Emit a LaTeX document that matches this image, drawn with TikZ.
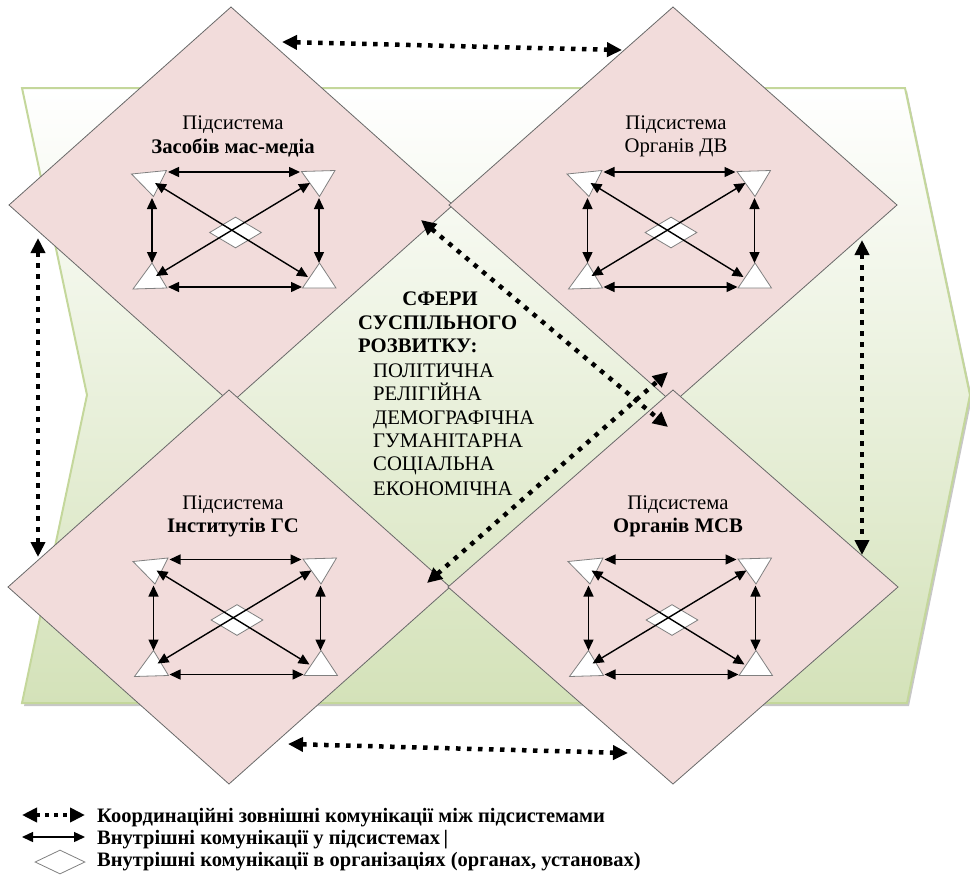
\documentclass[tikz,border=0pt]{standalone}
\usepackage{fontspec}
\setmainfont{Liberation Serif}
\usetikzlibrary{arrows.meta,shapes.geometric}
\definecolor{pinkfill}{RGB}{242,220,219}
\definecolor{chevgreen}{RGB}{212,226,185}
\definecolor{chevedge}{RGB}{196,215,155}
\definecolor{edgegray}{RGB}{105,105,105}
\definecolor{trigray}{RGB}{128,128,128}
\newcommand\innerset[2]{%
\begin{scope}[shift={#2}]
 \node[smalldia] (#1c) at (0,0) {};
 \path[tri] (-104,-58.5) -- (-69,-62) -- (-82,-36) -- cycle;
 \path[tri] (66,-61) -- (99.5,-62) -- (84,-36) -- cycle;
 \path[tri] (-102.5,56.5) -- (-83.5,30.5) -- (-68.5,55.5) -- cycle;
 \path[tri] (67,55.5) -- (84,30.5) -- (100.5,55.5) -- cycle;
 \coordinate (#1a1) at (-67.5,-60.5); \coordinate (#1a2) at (64.5,-60.5);
 \coordinate (#1b1) at (-83.5,-34.5); \coordinate (#1b2) at (-83.5,30.5);
 \coordinate (#1c1) at (83.5,-34.5);  \coordinate (#1c2) at (83.5,30.5);
 \coordinate (#1d1) at (-67.5,54.5);  \coordinate (#1d2) at (66.5,54.5);
 \coordinate (#1e1) at (-80.5,-49.5); \coordinate (#1e2) at (72.5,44.5);
 \coordinate (#1f1) at (74.5,-49.5);  \coordinate (#1f2) at (-79.5,43.5);
 \draw[inarrow] (#1a1) -- (#1a2);
 \draw[inarrow] (#1b1) -- (#1b2);
 \draw[inarrow] (#1c1) -- (#1c2);
 \draw[inarrow] (#1d1) -- (#1d2);
 \draw[inarrow] (#1e1) -- (#1e2);
 \draw[inarrow] (#1f1) -- (#1f2);
\end{scope}}
\begin{document}
\begin{tikzpicture}[x=1pt,y=-1pt,
  subsysbox/.style={diamond, draw=edgegray, fill=pinkfill, line width=0.8pt, inner sep=0pt, outer sep=0pt},
  smalldia/.style={diamond, draw=trigray, fill=white, line width=0.8pt, inner sep=0pt, minimum width=52pt, minimum height=31pt},
  tri/.style={draw=trigray, fill=white, line width=0.8pt},
  inarrow/.style={line width=1.4pt, {Triangle[length=11pt,width=10pt]}-{Triangle[length=11pt,width=10pt]}},
  coordarrow/.style={line width=4.5pt, dash pattern=on 4.5pt off 6.5pt, {Triangle[length=15pt,width=14pt]}-{Triangle[length=15pt,width=14pt]}},
  lbl/.style={font=\fontsize{20.7}{23.5}\selectfont, inner sep=0pt},
  blbl/.style={font=\fontsize{20.7}{23.5}\selectfont\bfseries, inner sep=0pt},
  leg/.style={font=\fontsize{20.5}{22}\selectfont\bfseries, inner sep=0pt, anchor=base west}]
\useasboundingbox (0,0) rectangle (970,876);
% chevron
\path[fill=black!22] (24,91) -- (907,91) -- (972,398) -- (909,706) -- (24,706) -- (89,398) -- cycle;
\path[draw=chevedge, line width=2pt, top color=white, bottom color=chevgreen] (22,88) -- (905,88) -- (970,395) -- (907,703) -- (22,703) -- (87,395) -- cycle;
% subsystems
\node[subsysbox, minimum width=444pt, minimum height=396pt] (tl) at (231,205) {};
\node[subsysbox, minimum width=448pt, minimum height=396pt] (tr) at (673,205) {};
\node[subsysbox, minimum width=442pt, minimum height=394pt] (bl) at (229,587) {};
\node[subsysbox, minimum width=450pt, minimum height=394pt] (br) at (673,587) {};
% coordination arrows
\coordinate (ctop1) at (282,42);  \coordinate (ctop2) at (622,50);
\coordinate (cbot1) at (288,744); \coordinate (cbot2) at (628,753);
\coordinate (cl1) at (38,238);    \coordinate (cl2) at (38,557);
\coordinate (cr1) at (862,240);   \coordinate (cr2) at (862,555);
\coordinate (cd1) at (421,220);   \coordinate (cd2) at (668,427);
\coordinate (ce1) at (427,583);   \coordinate (ce2) at (668,372);
\draw[coordarrow] (ctop1) -- (ctop2);
\draw[coordarrow] (cbot1) -- (cbot2);
\draw[coordarrow] (cl1) -- (cl2);
\draw[coordarrow] (cr1) -- (cr2);
\draw[coordarrow] (cd1) -- (cd2);
\draw[coordarrow] (ce1) -- (ce2);
% inner structures
\innerset{tli}{(235.5,232.5)}
\innerset{tri}{(671,232.5)}
\innerset{bli}{(237,620)}
\innerset{bri}{(672,620)}
% labels
\node[lbl]  (tlt1) at (233,125) {Підсистема};
\node[blbl] (tlt2) at (233,148) {Засобів мас-медіа};
\node[lbl]  (trt1) at (676,125) {Підсистема};
\node[lbl]  (trt2) at (676,148) {Органів ДВ};
\node[lbl]  (blt1) at (233,505) {Підсистема};
\node[blbl] (blt2) at (233,528) {Інститутів ГС};
\node[lbl]  (brt1) at (678,505) {Підсистема};
\node[blbl] (brt2) at (678,528) {Органів МСВ};
% centre text
\node[blbl, anchor=base] (sf1) at (440,305) {СФЕРИ};
\node[blbl, anchor=base west] (sf2) at (358,329) {СУСПІЛЬНОГО};
\node[blbl, anchor=base west] (sf3) at (358,352) {РОЗВИТКУ:};
\node[lbl, anchor=base west] (sp1) at (373,377) {ПОЛІТИЧНА};
\node[lbl, anchor=base west] (sp2) at (373,400) {РЕЛІГІЙНА};
\node[lbl, anchor=base west] (sp3) at (373,424) {ДЕМОГРАФІЧНА};
\node[lbl, anchor=base west] (sp4) at (373,447) {ГУМАНІТАРНА};
\node[lbl, anchor=base west] (sp5) at (373,470) {СОЦІАЛЬНА};
\node[lbl, anchor=base west] (sp6) at (373,495) {ЕКОНОМІЧНА};
% legend
\coordinate (lg1a) at (22,815); \coordinate (lg1b) at (85,815);
\coordinate (lg2a) at (22,837); \coordinate (lg2b) at (85,837);
\draw[coordarrow, dash pattern=on 4pt off 5pt] (lg1a) -- (lg1b);
\draw[inarrow] (lg2a) -- (lg2b);
\node[smalldia, minimum width=50pt, minimum height=24pt] (lg3) at (60,862) {};
\node[leg] (lgt1) at (97,822) {Координаційні зовнішні комунікації між підсистемами};
\node[leg] (lgt2) at (97,844) {Внутрішні комунікації у підсистемах\,|};
\node[leg] (lgt3) at (97,866) {Внутрішні комунікації в організаціях (органах, установах)};
\end{tikzpicture}
\end{document}
